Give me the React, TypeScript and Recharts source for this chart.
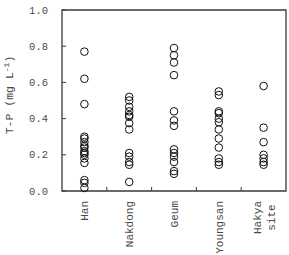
import { ReferenceArea, Scatter, ScatterChart, XAxis, YAxis } from "recharts";

const sites = ["Han", "Nakdong", "Geum", "Youngsan", "Hakya site"];

const han = [0.77, 0.62, 0.48, 0.3, 0.29, 0.27, 0.25, 0.24, 0.22, 0.21, 0.2, 0.18, 0.155, 0.06, 0.045, 0.017];
const nakdong = [0.52, 0.5, 0.465, 0.44, 0.42, 0.41, 0.375, 0.34, 0.21, 0.19, 0.16, 0.145, 0.05];
const geum = [0.79, 0.75, 0.71, 0.64, 0.44, 0.39, 0.36, 0.23, 0.21, 0.19, 0.16, 0.11, 0.095];
const youngsan = [0.55, 0.53, 0.44, 0.43, 0.4, 0.38, 0.34, 0.29, 0.24, 0.18, 0.16, 0.145];
const hakya = [0.58, 0.35, 0.27, 0.2, 0.18, 0.16, 0.145];

const yTicks = [0, 0.2, 0.4, 0.6, 0.8, 1.0];
const xTicks = [0.5, 1, 1.5, 2, 2.5, 3, 3.5, 4, 4.5];

const series = [han, nakdong, geum, youngsan, hakya];
const points = series.flatMap((vals, i) => vals.map((v) => ({ x: i + 0.5, y: v })));

const font = "'Liberation Mono', 'Courier New', monospace";
const axisColor = "#3a3a3a";
const textColor = "#4a4a4a";

const XTick = ({ x, y, payload }: any) => {
  const v = payload.value;
  if (Number.isInteger(v)) {
    return <line x1={x} y1={y} x2={x} y2={y - 4} stroke={axisColor} strokeWidth={1} />;
  }
  const lines: string[] = sites[Math.floor(v)].split(" ");
  const multi = lines.length > 1;
  const maxLen = Math.max(...lines.map((l) => l.length));
  return (
    <g transform={`translate(${x},${y + 10}) rotate(-90)`}>
      {lines.map((l, i) => (
        <text
          key={i}
          x={multi ? -(maxLen * 6.6) / 2 : 0}
          y={(i - (lines.length - 1) / 2) * 14 + 4}
          textAnchor={multi ? "middle" : "end"}
          fontFamily={font}
          fontSize={11}
          fill={textColor}
        >
          {l}
        </text>
      ))}
    </g>
  );
};

const YTick = ({ x, y, payload }: any) => (
  <g>
    <line x1={x} y1={y} x2={x + 4} y2={y} stroke={axisColor} strokeWidth={1} />
    <text x={x - 14} y={y + 3.5} textAnchor="end" fontFamily={font} fontSize={10.5} fill={textColor}>
      {payload.value.toFixed(1)}
    </text>
  </g>
);

const YLabel = () => (
  <text
    transform="translate(13,95) rotate(-90)"
    textAnchor="middle"
    fontFamily={font}
    fontSize={11.5}
    fill={textColor}
  >
    T-P (mg L
    <tspan dy={-4} fontSize={8}>
      -1
    </tspan>
    <tspan dy={4}>)</tspan>
  </text>
);

const Circle = (p: any) => (
  <circle cx={p.cx} cy={p.cy} r={3.8} fill="none" stroke="#111" strokeWidth={1} />
);

export default function App() {
  return (
    <div style={{ position: "absolute", left: 0, top: 0 }}>
      <ScatterChart width={289} height={255} margin={{ top: 10, right: 3, bottom: 0, left: 0 }}>
        <XAxis
          type="number"
          dataKey="x"
          domain={[0, 5]}
          ticks={xTicks}
          interval={0}
          height={64}
          axisLine={false}
          tickLine={false}
          tickSize={0}
          tickMargin={0}
          tick={<XTick />}
        />
        <YAxis
          type="number"
          dataKey="y"
          domain={[0, 1]}
          ticks={yTicks}
          interval={0}
          width={62}
          axisLine={false}
          tickLine={false}
          tickSize={0}
          tickMargin={0}
          tick={<YTick />}
          label={{ content: () => <YLabel /> }}
        />
        <ReferenceArea x1={0} x2={5} y1={0} y2={1} fill="none" stroke={axisColor} strokeWidth={1.3} />
        <Scatter data={points} shape={<Circle />} isAnimationActive={false} />
      </ScatterChart>
    </div>
  );
}
